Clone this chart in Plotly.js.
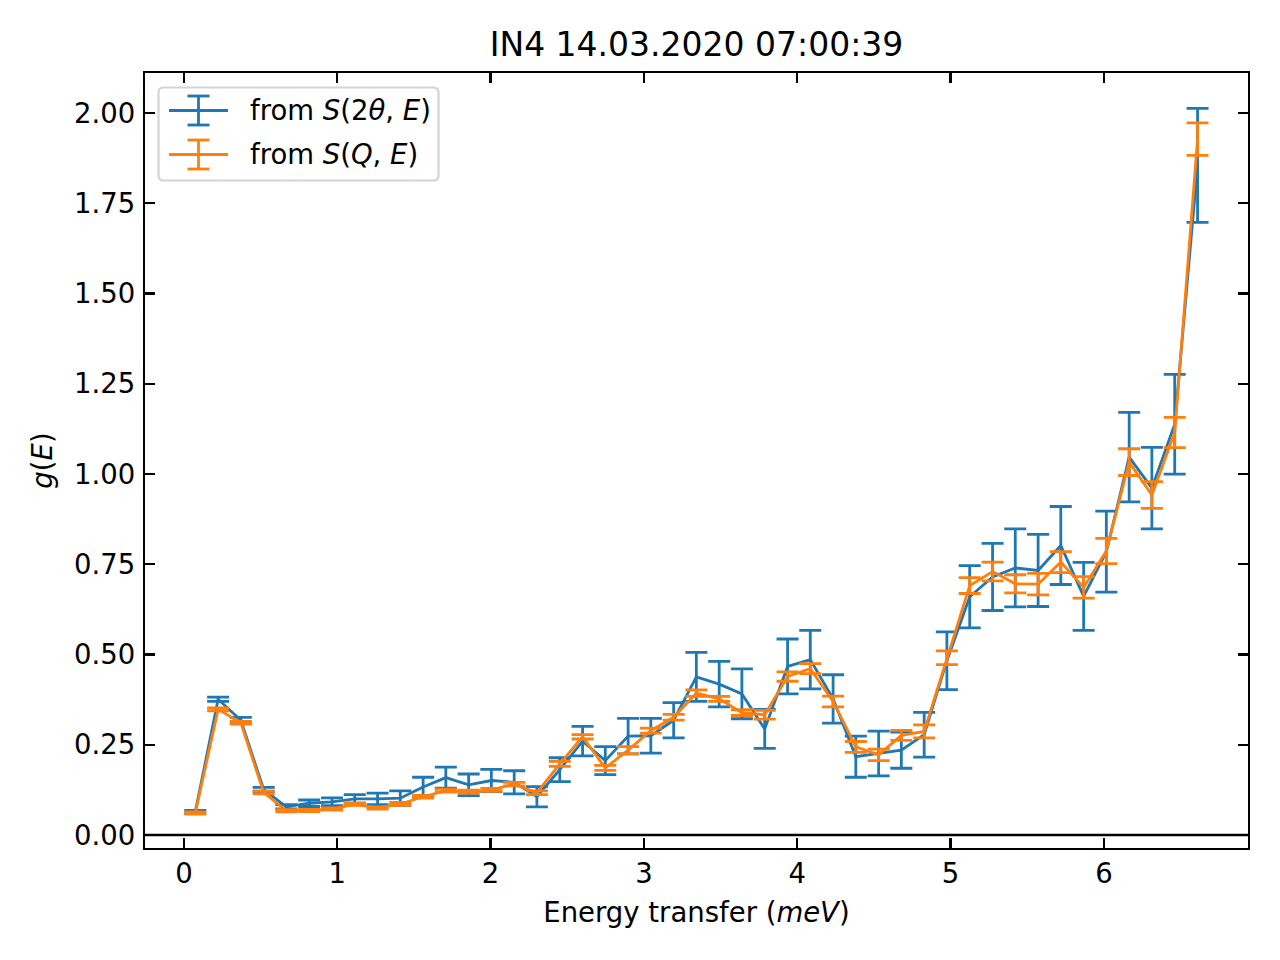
<!DOCTYPE html>
<html>
<head>
<meta charset="utf-8">
<script src="https://cdn.plot.ly/plotly-3.0.1.min.js"></script>
<style>html,body{margin:0;padding:0;background:#fff;}#chart{width:1280px;height:960px;}</style>
</head>
<body>
<div id="chart"></div>
<script>
// Energy transfer (meV), bin centres
const energy = [0.074,0.223,0.371,0.520,0.668,0.817,0.966,1.114,1.263,1.411,
  1.560,1.708,1.857,2.005,2.154,2.302,2.451,2.600,2.748,2.897,
  3.045,3.194,3.342,3.491,3.639,3.788,3.937,4.085,4.234,4.382,
  4.531,4.679,4.828,4.976,5.125,5.274,5.422,5.571,5.719,5.868,
  6.016,6.165,6.313,6.462,6.611];

// g(E) from S(2theta,E)
const gTheta = [0.064,0.376,0.318,0.126,0.078,0.088,0.092,0.100,0.100,0.102,
  0.133,0.159,0.139,0.151,0.146,0.106,0.181,0.260,0.206,0.274,
  0.275,0.318,0.438,0.418,0.391,0.294,0.467,0.486,0.377,0.217,
  0.226,0.235,0.278,0.483,0.660,0.715,0.740,0.733,0.802,0.661,
  0.785,1.047,0.961,1.138,1.855];
const errTheta = [0.004,0.006,0.008,0.006,0.006,0.009,0.011,0.012,0.016,0.020,
  0.027,0.029,0.030,0.031,0.032,0.028,0.033,0.041,0.039,0.049,
  0.048,0.049,0.068,0.063,0.069,0.054,0.076,0.081,0.067,0.057,
  0.062,0.050,0.062,0.080,0.086,0.093,0.108,0.100,0.108,0.094,
  0.112,0.124,0.113,0.138,0.158];

// g(E) from S(Q,E)
const gQ = [0.061,0.348,0.311,0.118,0.067,0.068,0.072,0.085,0.075,0.086,
  0.106,0.123,0.120,0.125,0.141,0.117,0.197,0.272,0.186,0.235,
  0.289,0.326,0.393,0.377,0.339,0.333,0.439,0.461,0.370,0.244,
  0.222,0.276,0.287,0.491,0.691,0.730,0.696,0.695,0.756,0.686,
  0.787,1.033,0.942,1.115,1.928];
const errQ = [0.003,0.004,0.004,0.004,0.003,0.003,0.003,0.003,0.003,0.004,
  0.004,0.004,0.004,0.004,0.005,0.005,0.007,0.006,0.007,0.010,
  0.007,0.008,0.009,0.007,0.008,0.012,0.013,0.014,0.015,0.015,
  0.016,0.014,0.018,0.019,0.022,0.026,0.025,0.030,0.029,0.030,
  0.035,0.037,0.037,0.042,0.045];

const seriesNames = ['from <i>S</i>(2<i>θ</i>, <i>E</i>)', 'from <i>S</i>(<i>Q</i>, <i>E</i>)'];
const seriesColors = ['#1f77b4', '#ff7f0e'];
const yTicks = [0,0.25,0.5,0.75,1.0,1.25,1.5,1.75,2.0];
const xTicks = [0,1,2,3,4,5,6];

const FONT = 'DejaVu Sans, Liberation Sans, sans-serif';
const LW = 2.8;

// plot area geometry in pixels (for the hand-made legend)
const L = 145, T = 73, W = 1103, H = 775;
const px = p => (p - L) / W;
const py = p => (T + H - p) / H;

function trace(x, y, e, name, color) {
  return {
    x: x, y: y, type: 'scatter', mode: 'lines', name: name, showlegend: false,
    line: {color: color, width: LW},
    error_y: {type: 'data', array: e, visible: true, color: color, thickness: LW, width: 11},
    hoverinfo: 'x+y'
  };
}

const data = [
  trace(energy, gTheta, errTheta, seriesNames[0], seriesColors[0]),
  trace(energy, gQ, errQ, seriesNames[1], seriesColors[1])
];

// legend frame (rounded rectangle)
function roundRect(x0, y0, x1, y1, r) {
  const P = (a, b) => px(a) + ',' + py(b);
  return 'M' + P(x0 + r, y0) + ' L' + P(x1 - r, y0) + ' Q' + P(x1, y0) + ' ' + P(x1, y0 + r) +
    ' L' + P(x1, y1 - r) + ' Q' + P(x1, y1) + ' ' + P(x1 - r, y1) +
    ' L' + P(x0 + r, y1) + ' Q' + P(x0, y1) + ' ' + P(x0, y1 - r) +
    ' L' + P(x0, y0 + r) + ' Q' + P(x0, y0) + ' ' + P(x0 + r, y0) + ' Z';
}

const shapes = [
  {type: 'line', xref: 'paper', yref: 'y', x0: 0, x1: 1, y0: 0, y1: 0,
   line: {color: '#000', width: 2.4}, layer: 'below'},
  {type: 'path', xref: 'paper', yref: 'paper', path: roundRect(158.5, 87.5, 438.5, 180.5, 5),
   fillcolor: 'rgba(255,255,255,0.8)', line: {color: '#d4d4d4', width: 2.2}}
];
const annotations = [];
const rows = [110.5, 154.5];
rows.forEach((ry, i) => {
  const c = seriesColors[i];
  shapes.push({type: 'line', xref: 'paper', yref: 'paper', x0: px(169), x1: px(228), y0: py(ry), y1: py(ry), line: {color: c, width: LW}});
  shapes.push({type: 'line', xref: 'paper', yref: 'paper', x0: px(198.5), x1: px(198.5), y0: py(ry - 14.5), y1: py(ry + 14.5), line: {color: c, width: LW}});
  shapes.push({type: 'line', xref: 'paper', yref: 'paper', x0: px(187.5), x1: px(209.5), y0: py(ry - 14.5), y1: py(ry - 14.5), line: {color: c, width: LW}});
  shapes.push({type: 'line', xref: 'paper', yref: 'paper', x0: px(187.5), x1: px(209.5), y0: py(ry + 14.5), y1: py(ry + 14.5), line: {color: c, width: LW}});
  annotations.push({xref: 'paper', yref: 'paper', x: px(248), y: py(ry), xanchor: 'left', yanchor: 'middle',
    text: seriesNames[i], showarrow: false, font: {family: FONT, size: 27.5, color: '#000'}});
});

const axisCommon = {
  showline: true, linecolor: '#000', linewidth: 2.2, mirror: 'allticks',
  ticks: 'inside', ticklen: 9.7, tickwidth: 2.2, tickcolor: '#000',
  showgrid: false, zeroline: false,
  tickfont: {family: FONT, size: 27.5, color: '#000'}
};

const layout = {
  width: 1280, height: 960,
  margin: {l: L, r: 1280 - L - W, t: T, b: 960 - T - H, pad: 0},
  paper_bgcolor: '#fff', plot_bgcolor: '#fff',
  showlegend: false,
  title: {text: 'IN4 14.03.2020 07:00:39', font: {family: FONT, size: 33, color: '#000'},
          x: 0.5, xref: 'paper', y: 1 - 44 / 960, yref: 'container', yanchor: 'middle'},
  xaxis: Object.assign({}, axisCommon, {
    range: [-0.254, 6.94], tickvals: xTicks, ticktext: xTicks.map(String),
    ticklabelstandoff: 0,
    title: {text: 'Energy transfer (<i>meV</i>)', font: {family: FONT, size: 27.5, color: '#000'}, standoff: 15}
  }),
  yaxis: Object.assign({}, axisCommon, {
    range: [-0.036, 2.111], tickvals: yTicks, ticktext: yTicks.map(v => v.toFixed(2)),
    ticklabelstandoff: 2,
    title: {text: '<i>g</i>(<i>E</i>)', font: {family: FONT, size: 27.5, color: '#000'}, standoff: 14}
  }),
  shapes: shapes,
  annotations: annotations
};

Plotly.newPlot('chart', data, layout, {displayModeBar: false, staticPlot: true});
</script>
</body>
</html>
